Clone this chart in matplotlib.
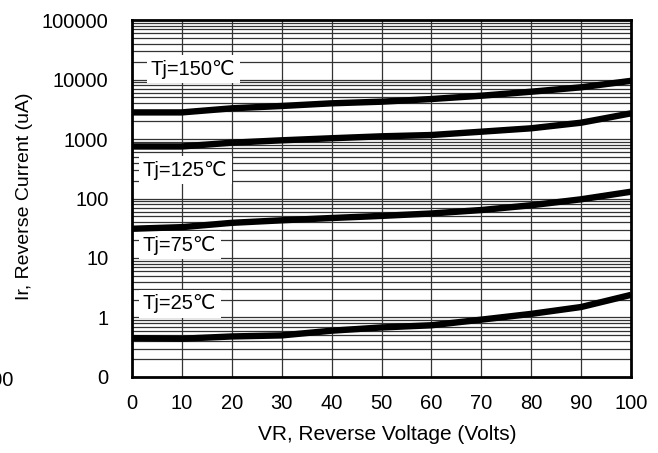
# Reverse current vs reverse voltage, log scale
import matplotlib.pyplot as plt
import numpy as np

plt.rcParams['font.family'] = ['Liberation Sans', 'DejaVu Sans']

voltage = [0, 10, 20, 30, 40, 50, 60, 70, 80, 90, 100]
ir_150 = [2800, 2800, 3280, 3590, 3980, 4240, 4700, 5340, 6240, 7400, 9500]
ir_125 = [750, 750, 867, 951, 1030, 1110, 1167, 1327, 1514, 1880, 2700]
ir_75 = [31, 33, 39, 43, 47, 51, 56, 64, 77, 97, 130]
ir_25 = [0.45, 0.44, 0.48, 0.50, 0.60, 0.68, 0.74, 0.92, 1.15, 1.50, 2.40]

y_ticks = [0.1, 1, 10, 100, 1000, 10000, 100000]
y_tick_labels = ['0', '1', '10', '100', '1000', '10000', '100000']
x_ticks = [0, 10, 20, 30, 40, 50, 60, 70, 80, 90, 100]

curve_labels = ['Tj=150℃', 'Tj=125℃', 'Tj=75℃', 'Tj=25℃']
label_pos = [(3.8, 15000), (2.2, 300), (2.2, 16.5), (2.2, 1.7)]

fig = plt.figure(figsize=(6.58, 4.53), dpi=100)
ax = fig.add_axes([0.2006, 0.1678, 0.7584, 0.788])

for ys in [ir_150, ir_125, ir_75, ir_25]:
    ax.plot(voltage, ys, color='black', lw=4.6, solid_capstyle='butt', zorder=4)

ax.set_yscale('log')
ax.set_xlim(0, 100)
ax.set_ylim(0.1, 100000)

# grid: every 10 V, every log minor step
for v in x_ticks[1:-1]:
    ax.axvline(v, color='#333333', lw=0.9, zorder=1)
for dec in range(-1, 5):
    for m in range(1, 10):
        yv = m * 10.0 ** dec
        if 0.1 < yv < 100000:
            ax.axhline(yv, color='#333333', lw=0.9, zorder=1)

for txt, (xp, yp) in zip(curve_labels, label_pos):
    ax.text(xp, yp, txt, fontsize=14.5, va='center', ha='left', zorder=3,
            bbox=dict(facecolor='white', edgecolor='none', pad=3))

ax.set_xticks(x_ticks)
ax.set_yticks(y_ticks)
ax.set_yticklabels(y_tick_labels)
ax.minorticks_off()
ax.tick_params(axis='both', length=0, labelsize=14.5)
ax.tick_params(axis='x', pad=12)
ax.tick_params(axis='y', pad=17)
for s in ax.spines.values():
    s.set_linewidth(2)
    s.set_zorder(5)

fig.text(387 / 658, 1 - 435 / 453, 'VR, Reverse Voltage (Volts)', fontsize=15,
         ha='center', va='center')
fig.text(25 / 658, 1 - 196 / 453, 'Ir, Reverse Current (uA)', fontsize=14,
         rotation=90, ha='center', va='center')
# leftover label partly outside the left edge, as in the original
fig.text(14 / 658, 1 - 380 / 453, '100', fontsize=14.5, ha='right', va='center')

fig.savefig('out.png', dpi=100)
